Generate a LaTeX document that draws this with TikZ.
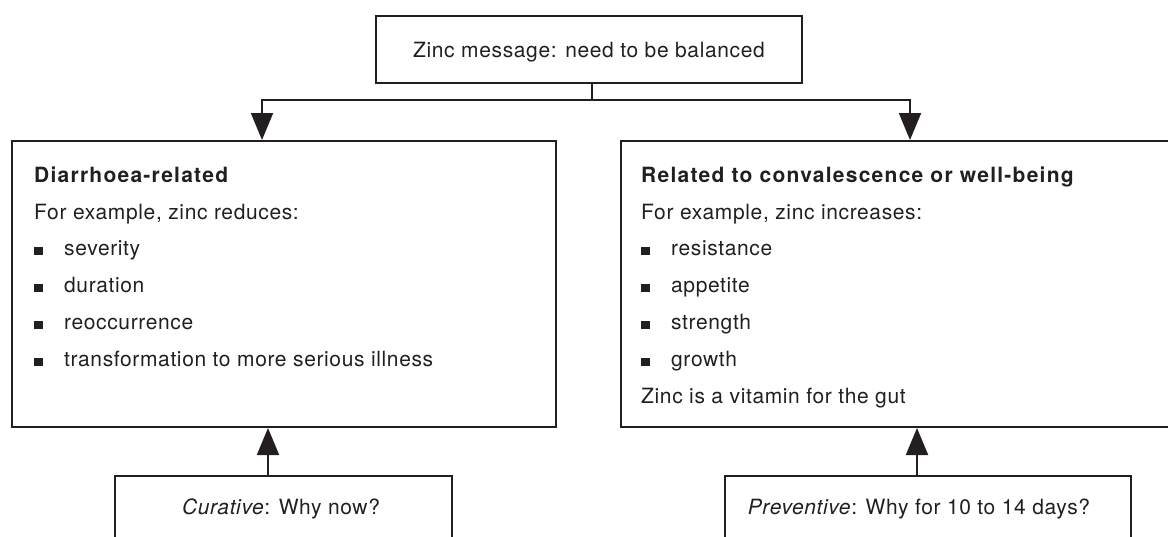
\documentclass[tikz,border=0pt]{standalone}
\usepackage{fontspec}
\setmainfont{TeX Gyre Heros}[LetterSpace=3, BoldFeatures={LetterSpace=6}]
\usetikzlibrary{arrows.meta}
\definecolor{ink}{RGB}{35,31,32}
\newcommand{\itembox}[1]{\makebox[30pt][l]{\rule[0.5pt]{8.5pt}{8pt}}#1}
\begin{document}
\begin{tikzpicture}[x=1pt, y=-1pt,
  every node/.style={font=\fontsize{21}{25}\selectfont, text=ink},
  box/.style={draw=ink, line width=2pt, rectangle, inner sep=0pt, anchor=north west},
  txt/.style={inner sep=0pt, anchor=base west},
  link/.style={draw=ink, line width=2pt},
  arr/.style={link, -{Triangle[length=27pt, width=22pt]}}
]
\useasboundingbox (0,0) rectangle (1168,536);
\clip (0,0) rectangle (1168,536);

% top message box
\node[box, minimum width=426pt, minimum height=67pt, text height=15pt, text depth=0pt]
  (top) at (375,15) {Zinc message: need to be balanced};

% two main boxes
\node[box, minimum width=544pt, minimum height=286pt] (diar) at (11,140) {};
\node[box, minimum width=580pt, minimum height=286pt] (conv) at (620,140) {};

% bottom boxes (run past the lower edge)
\node[box, minimum width=337pt, minimum height=90pt] (cur) at (114,475) {};
\node[box, minimum width=406pt, minimum height=90pt] (prev) at (724,475) {};

% left box contents
\node[txt] (d0) at (34,182) {\textbf{Diarrhoea-related}};
\node[txt] (d1) at (34,219) {For example, zinc reduces:};
\node[txt] (d2) at (34,255.5) {\itembox{severity}};
\node[txt] (d3) at (34,292.5) {\itembox{duration}};
\node[txt] (d4) at (34,329) {\itembox{reoccurrence}};
\node[txt] (d5) at (34,366) {\itembox{transformation to more serious illness}};

% right box contents
\node[txt] (c0) at (641,182) {\textbf{Related to convalescence or well-being}};
\node[txt] (c1) at (641,219) {For example, zinc increases:};
\node[txt] (c2) at (641,255.5) {\itembox{resistance}};
\node[txt] (c3) at (641,292.5) {\itembox{appetite}};
\node[txt] (c4) at (641,329) {\itembox{strength}};
\node[txt] (c5) at (641,366) {\itembox{growth}};
\node[txt] (c6) at (641,403) {Zinc is a vitamin for the gut};

% bottom box texts
\node[inner sep=0pt, anchor=base] (curt) at (281,514) {\textit{Curative}: Why now?};
\node[inner sep=0pt, anchor=base] (prevt) at (919,514) {\textit{Preventive}: Why for 10 to 14 days?};

% connectors
\coordinate (jn) at ([xshift=3pt]top.south |- 0,100);
\coordinate (ltip) at ([xshift=251pt]diar.north west);
\coordinate (rtip) at ([xshift=290pt]conv.north west);
\draw[link] ([xshift=3pt]top.south) -- (jn);
\draw[arr] (jn) -| (ltip);
\draw[arr] (jn) -| (rtip);
\draw[arr] ([xshift=154pt]cur.north west) -- ([xshift=154pt]cur.north west |- diar.south);
\draw[arr] ([xshift=193pt]prev.north west) -- ([xshift=193pt]prev.north west |- conv.south);
\end{tikzpicture}
\end{document}
